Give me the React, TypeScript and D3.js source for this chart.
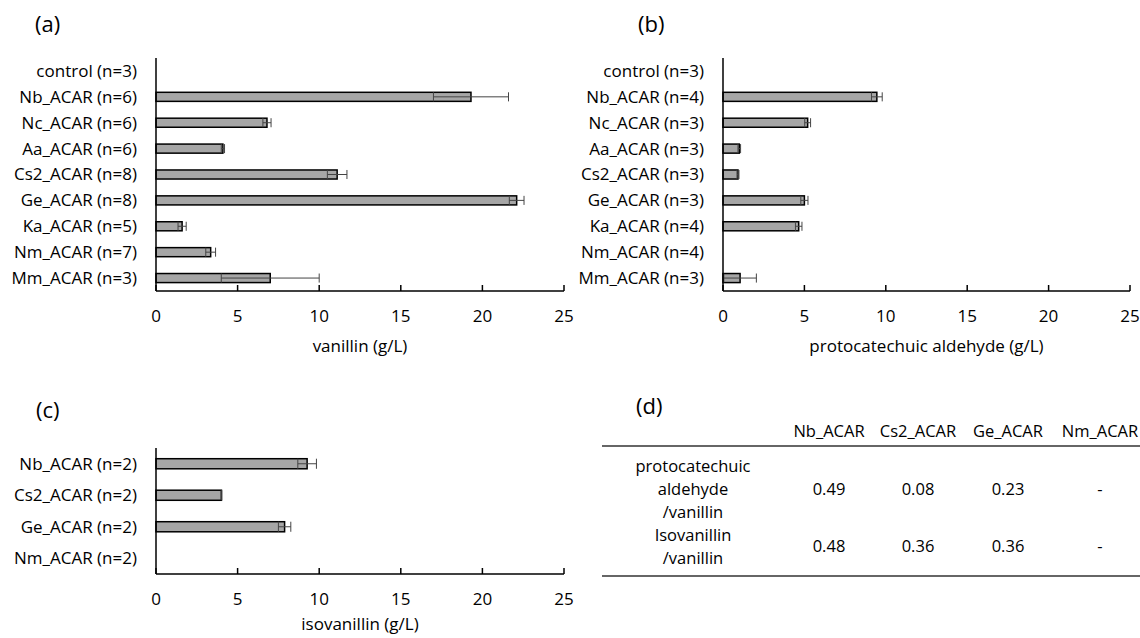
import React from "react";
import { scaleLinear, scaleBand } from "d3";

// (a) vanillin
const vanillinLabels = [
  "control (n=3)",
  "Nb_ACAR (n=6)",
  "Nc_ACAR (n=6)",
  "Aa_ACAR (n=6)",
  "Cs2_ACAR (n=8)",
  "Ge_ACAR (n=8)",
  "Ka_ACAR (n=5)",
  "Nm_ACAR (n=7)",
  "Mm_ACAR (n=3)",
];
const vanillinMean = [0, 19.3, 6.8, 4.1, 11.1, 22.1, 1.6, 3.35, 7.0];
const vanillinErr = [0, 2.3, 0.25, 0.1, 0.6, 0.45, 0.25, 0.3, 3.0];

// (b) protocatechuic aldehyde
const pcaLabels = [
  "control (n=3)",
  "Nb_ACAR (n=4)",
  "Nc_ACAR (n=3)",
  "Aa_ACAR (n=3)",
  "Cs2_ACAR (n=3)",
  "Ge_ACAR (n=3)",
  "Ka_ACAR (n=4)",
  "Nm_ACAR (n=4)",
  "Mm_ACAR (n=3)",
];
const pcaMean = [0, 9.45, 5.2, 1.0, 0.92, 5.0, 4.65, 0, 1.05];
const pcaErr = [0, 0.33, 0.18, 0.08, 0.06, 0.22, 0.2, 0, 1.0];

// (c) isovanillin
const isoLabels = ["Nb_ACAR (n=2)", "Cs2_ACAR (n=2)", "Ge_ACAR (n=2)", "Nm_ACAR (n=2)"];
const isoMean = [9.26, 4.01, 7.88, 0];
const isoErr = [0.57, 0.02, 0.38, 0];

const xTicks = [0, 5, 10, 15, 20, 25];

// (d) ratio table
const tableCols = ["Nb_ACAR", "Cs2_ACAR", "Ge_ACAR", "Nm_ACAR"];
const tableRowNames = [
  ["protocatechuic", "aldehyde", "/vanillin"],
  ["Isovanillin", "/vanillin"],
];
const tableValues = [
  ["0.49", "0.08", "0.23", "-"],
  ["0.48", "0.36", "0.36", "-"],
];

const FONT = "'Open Sans', sans-serif";

function BarPanel({ x0, x1, top, bottom, labels, means, errs, title, barFrac, titleDy }) {
  const x = scaleLinear().domain([0, 25]).range([x0, x1]);
  const y = scaleBand().domain(labels).range([top, bottom]).padding(0);
  const bh = y.bandwidth() * barFrac;
  return (
    <g>
      {labels.map((l, i) => {
        const cy = y(l) + y.bandwidth() / 2;
        const m = means[i];
        const e = errs[i];
        return (
          <g key={l}>
            <text x={x0 - 19} y={cy} dy="0.35em" textAnchor="end" fontSize={17} fill="#000">
              {l}
            </text>
            {m > 0 && (
              <rect x={x(0)} y={cy - bh / 2} width={x(m) - x(0)} height={bh} fill="#a6a6a6" stroke="#000" strokeWidth={1.5} />
            )}
            {m > 0 && e > 0 && (
              <g stroke="#444" strokeWidth={1}>
                <line x1={x(m - e)} x2={x(m + e)} y1={cy} y2={cy} />
                <line x1={x(m - e)} x2={x(m - e)} y1={cy - bh / 2} y2={cy + bh / 2} />
                <line x1={x(m + e)} x2={x(m + e)} y1={cy - bh / 2} y2={cy + bh / 2} />
              </g>
            )}
          </g>
        );
      })}
      <line x1={x0} x2={x0} y1={top} y2={bottom} stroke="#000" strokeWidth={1.5} />
      <line x1={x0} x2={x1} y1={bottom} y2={bottom} stroke="#000" strokeWidth={1.5} />
      {xTicks.map((t) => (
        <g key={t}>
          <line x1={x(t)} x2={x(t)} y1={bottom} y2={bottom - 6} stroke="#000" strokeWidth={1.5} />
          <text x={x(t)} y={bottom + 31} textAnchor="middle" fontSize={17}>
            {t}
          </text>
        </g>
      ))}
      <text x={(x0 + x1) / 2} y={bottom + titleDy} textAnchor="middle" fontSize={17}>
        {title}
      </text>
    </g>
  );
}

function RatioTable() {
  const colX = [829, 918, 1008, 1100];
  const nameX = 693;
  const rowY = [489, 546];
  const nameLineY = [
    [466, 489, 512],
    [535, 558],
  ];
  return (
    <g fontSize={16.5}>
      {tableCols.map((c, i) => (
        <text key={c} x={colX[i]} y={431} dy="0.35em" textAnchor="middle">
          {c}
        </text>
      ))}
      <line x1={602} x2={1140} y1={446} y2={446} stroke="#666" strokeWidth={2} />
      {tableRowNames.map((lines, r) => (
        <g key={r}>
          {lines.map((t, k) => (
            <text key={k} x={nameX} y={nameLineY[r][k]} dy="0.35em" textAnchor="middle">
              {t}
            </text>
          ))}
          {tableValues[r].map((v, i) => (
            <text key={i} x={colX[i]} y={rowY[r]} dy="0.35em" textAnchor="middle">
              {v}
            </text>
          ))}
        </g>
      ))}
      <line x1={602} x2={1140} y1={576} y2={576} stroke="#666" strokeWidth={2} />
    </g>
  );
}

export default function App() {
  return (
    <svg
      width={1140}
      height={638}
      style={{ position: "absolute", left: 0, top: 0, background: "#fff" }}
      fontFamily={FONT}
    >
      <text x={35} y={32} fontSize={22}>(a)</text>
      <text x={638} y={32} fontSize={22}>(b)</text>
      <text x={36} y={418} fontSize={22}>(c)</text>
      <text x={636} y={414} fontSize={22}>(d)</text>
      <BarPanel x0={156} x1={564} top={58} bottom={291} labels={vanillinLabels} means={vanillinMean} errs={vanillinErr} title="vanillin (g/L)" barFrac={0.35} titleDy={61} />
      <BarPanel x0={723} x1={1130} top={58} bottom={291} labels={pcaLabels} means={pcaMean} errs={pcaErr} title="protocatechuic aldehyde (g/L)" barFrac={0.35} titleDy={61} />
      <BarPanel x0={156} x1={564} top={448} bottom={574} labels={isoLabels} means={isoMean} errs={isoErr} title="isovanillin (g/L)" barFrac={0.32} titleDy={56} />
      <RatioTable />
    </svg>
  );
}
